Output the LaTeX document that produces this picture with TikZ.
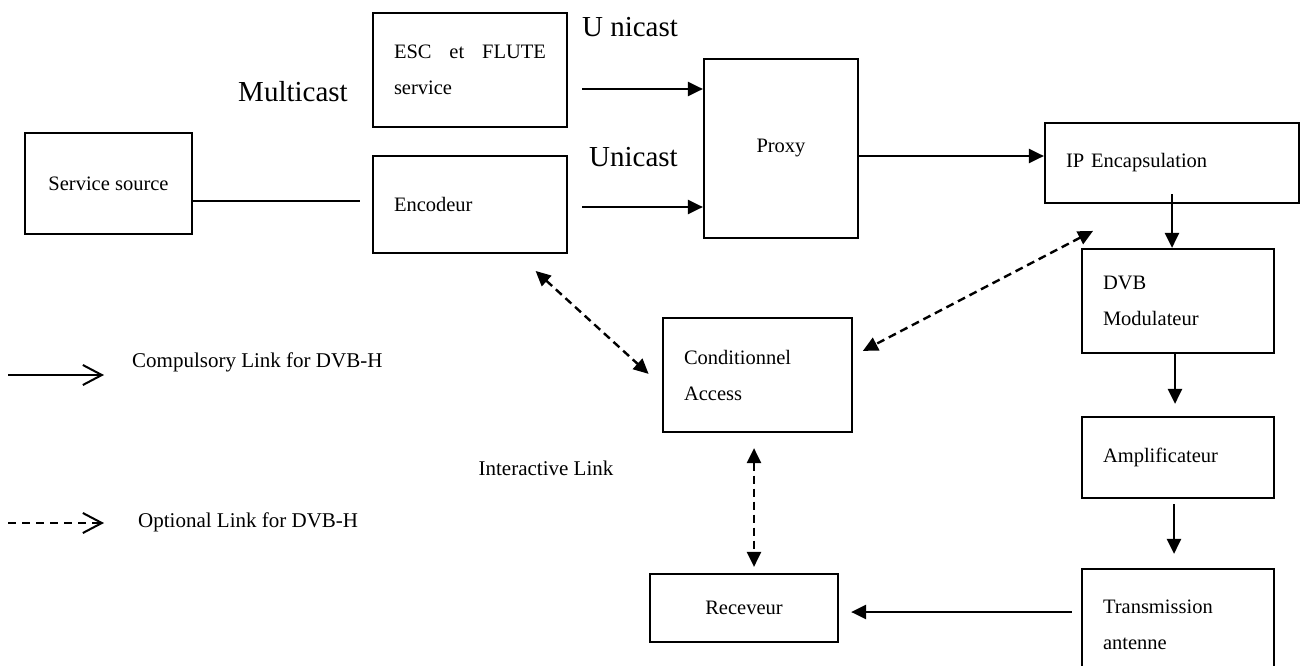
\documentclass[tikz,border=0pt]{standalone}
\usepackage{fontspec}
\setmainfont{Liberation Serif}
\usetikzlibrary{arrows.meta}

\tikzset{
  block/.style={draw, line width=2.2pt, inner xsep=21pt, inner ysep=0pt,
    font=\fontsize{20.5}{36}\selectfont},
  link/.style={line width=2.4pt, -{Triangle[length=15pt,width=14pt]}},
  optlink/.style={line width=2.4pt, dash pattern=on 8pt off 5pt,
    {Triangle[length=15pt,width=14pt]}-{Triangle[length=15pt,width=14pt]}},
  label/.style={font=\fontsize{21}{25}\selectfont},
  castlabel/.style={font=\fontsize{29}{34}\selectfont},
}

\begin{document}
\begin{tikzpicture}[x=1pt, y=-1pt]
    \useasboundingbox (0,0) rectangle (1300,666);

    % Head end
    \node[block, align=center, minimum width=167pt, minimum height=101pt] (src) at (108.5,183.5) {Service source};
    \node[block, align=justify, text width=152pt, minimum height=114pt] (esc) at (470,70) {ESC et FLUTE service};
    \node[block, align=left, text width=152pt, minimum height=97pt] (enc) at (470,204.5) {Encodeur};
    \node[block, align=center, minimum width=154pt, minimum height=179pt] (proxy) at (781,148.5) {Proxy};
    \node[block, align=left, text width=212pt, minimum height=80pt] (ipenc) at (1172,163) {IP Encapsulation};

    % Transmission chain
    \node[block, align=left, text width=150pt, minimum height=104pt] (dvbmod) at (1178,301) {DVB\\Modulateur};
    \node[block, align=left, text width=150pt, minimum height=81pt] (ampli) at (1178,457.5) {Amplificateur};
    \node[block, align=left, text width=150pt, minimum height=111pt] (trans) at (1178,624.5) {Transmission\\antenne};

    % Access and reception
    \node[block, align=left, text width=147pt, minimum height=114pt] (cond) at (757.5,375) {Conditionnel\\Access};
    \node[block, align=center, minimum width=188pt, minimum height=68pt] (recv) at (744,608) {Receveur};

    % Labels
    \node[castlabel] (multi) at (293,92) {Multicast};
    \node[castlabel] (uni1) at (630,27) {U nicast};
    \node[castlabel] (uni2) at (633.5,157) {Unicast};
    \node[label] (inter) at (546,468) {Interactive Link};

    % Compulsory links
    \draw[line width=2.4pt, shorten >=12pt] ([yshift=-17.5pt]src.east) -- ([yshift=-17.5pt]src.east -| enc.west);
    \draw[link, shorten <=14pt] ([yshift=-19pt]esc.east) -- ([yshift=-19pt]esc.east -| proxy.west);
    \draw[link, shorten <=14pt] ([yshift=-2.5pt]enc.east) -- ([yshift=-2.5pt]enc.east -| proxy.west);
    \draw[link] ([yshift=-7.5pt]proxy.east) -- ([yshift=-7.5pt]proxy.east -| ipenc.west);
    \draw[link, shorten <=-10pt] (ipenc.south) -- (ipenc.south |- dvbmod.north);
    \draw[link, shorten >=12pt] ([xshift=-3pt]dvbmod.south) -- ([xshift=-3pt]ampli.north);
    \draw[link, shorten <=5pt, shorten >=14pt] ([xshift=-4pt]ampli.south) -- ([xshift=-4pt]trans.north);
    \draw[link, shorten <=9pt, shorten >=12pt] ([yshift=12.5pt]trans.west) -- ([yshift=12.5pt]trans.west -| recv.east);

    % Optional links
    \draw[optlink, shorten <=25pt, shorten >=18pt] ([xshift=-51pt]enc.south east) -- ([yshift=-11pt]cond.west);
    \draw[optlink, shorten <=58pt, shorten >=11pt] ([xshift=-27.5pt]ipenc.south) -- ([yshift=19pt]cond.east);
    \draw[optlink, shorten <=15pt, shorten >=6pt] ([xshift=-3.5pt]cond.south) -- ([xshift=-3.5pt]cond.south |- recv.north);

    % Legend
    \coordinate (leg1a) at (8,375);
    \coordinate (leg1b) at (104,375);
    \coordinate (leg2a) at (8,523);
    \coordinate (leg2b) at (104,523);
    \draw[line width=2pt, -{Straight Barb[length=19pt,width=20pt]}] (leg1a) -- (leg1b);
    \draw[line width=2pt, dash pattern=on 8pt off 6pt, -{Straight Barb[length=19pt,width=20pt]}] (leg2a) -- (leg2b);
    \node[label, anchor=west, inner sep=0pt] (leg1) at (132,362) {Compulsory Link for DVB-H};
    \node[label, anchor=west, inner sep=0pt] (leg2) at (138,522) {Optional Link for DVB-H};
\end{tikzpicture}
\end{document}
